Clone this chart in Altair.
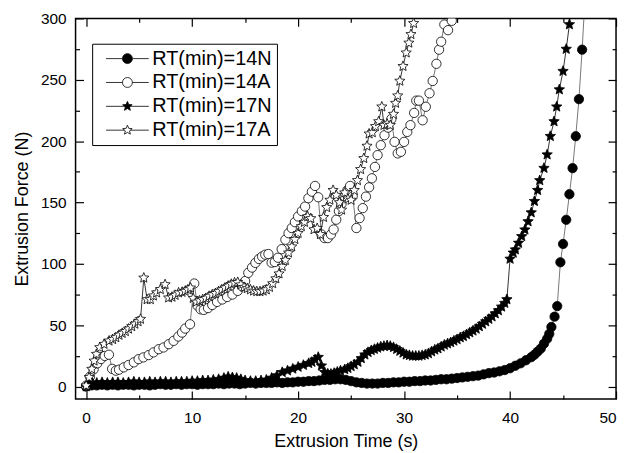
import math
import altair as alt
import pandas as pd

SERIES = ["RT(min)=14N", "RT(min)=14A", "RT(min)=17N", "RT(min)=17A"]

# (time s, force N)
s14N = [(0,0),(0.5,1),(1,1),(1.5,1.5),(2,1),(2.5,1.5),(3,1),(3.5,1.5),(4,1.5),(4.5,1),
        (5,1.5),(5.5,1.5),(6,1),(6.5,1.5),(7,2),(7.5,1.5),(8,1.5),(8.5,2),(9,1.5),(9.5,2),
        (10,2),(10.5,1.5),(11,2),(11.5,2),(12,2),(12.5,2.5),(13,2),(13.5,2.5),(14,2.5),(14.5,2),
        (15,2.5),(15.5,3),(16,2.5),(16.5,3),(17,3),(17.5,3),(18,3.5),(18.5,3),(19,3.5),(19.5,3.5),
        (20,4),(20.5,4),(21,4.5),(21.5,4.5),(22,5),(22.5,5.5),(23,5.5),(23.5,6),(24,6),(24.5,5.5),
        (25,4.5),(25.5,3.5),(26,3),(26.5,2.5),(27,2.5),(27.5,2.5),(28,3),(28.5,3),(29,3.5),(29.5,3.5),
        (30,4),(30.5,4),(31,4.5),(31.5,4.5),(32,5),(32.5,5),(33,5.5),(33.5,6),(34,6),(34.5,6.5),
        (35,7),(35.5,7.5),(36,8),(36.5,8.5),(37,9),(37.5,10),(38,11),(38.5,11.5),(39,12.5),(39.5,13.5),
        (40,15),(40.5,17),(41,19),(41.5,21.5),(42,24),(42.3,26),(42.6,28.5),(42.9,31),(43.2,35),(43.5,39),
        (43.7,43),(43.9,48.6),(44.2,57),(44.45,65.6),(44.75,101.3),(45.0,116.2),(45.3,135.9),(45.6,156.7),
        (45.9,178),(46.2,204),(46.5,234.2),(46.8,274.5),(47.1,320)]

s14A = [(0,0.8),(0.35,8),(0.7,14),(1.05,19),(1.4,22.5),(1.75,25),(2.15,26),(2.45,14.5),(2.8,13),
        (3.1,13.8),(3.55,15.7),(4.0,17.6),(4.5,19.8),(4.95,22.4),(5.4,23.8),(5.9,25.7),(6.35,27.9),
        (6.85,30.5),(7.3,31.9),(7.8,34.6),(8.25,37.3),(8.7,40.8),(9.05,44),(9.35,47.3),(9.8,50.8),
        (10.2,84),(10.5,66),(10.8,63),(11.1,62.5),(11.5,64),(11.9,66.5),(12.35,69),(12.85,71),
        (13.3,73),(13.8,75),(14.3,78),(14.7,81.8),(15.0,86),(15.3,92.7),(15.65,97),(15.97,100.8),
        (16.3,104),(16.6,106),(16.9,107.5),(17.2,108),(17.5,101),(17.8,101.5),(18.1,105),(18.45,112),
        (18.8,119.7),(19.1,125),(19.4,129.2),(19.7,134),(20.0,138.6),(20.35,143),(20.66,146.7),
        (20.97,153.5),(21.3,158.8),(21.6,163.5),(21.9,154.3),(22.2,124),(22.5,121),(22.8,121),
        (23.1,124),(23.35,128),(23.6,136),(23.85,143),(24.1,149),(24.4,155),(24.65,160),(24.9,163.5),
        (25.15,155),(25.5,129.2),(25.8,137.3),(26.1,145.4),(26.4,154.8),(26.7,162.4),(26.96,169.7),
        (27.25,179),(27.5,188.6),(27.8,196.7),(28.15,204.8),(28.5,211),(28.8,218),(29.1,199.4),
        (29.4,190),(29.7,191.3),(30.0,199.4),(30.3,207.5),(30.6,213),(30.95,223),(31.15,233),
        (31.4,233),(31.75,217),(32.05,228),(32.4,239),(32.7,249),(33.05,263),(33.3,274.5),
        (33.5,281),(33.8,295),(34.15,290.4),(34.5,298),(34.8,312)]

s17N = [(0,0),(0.3,2),(0.6,3),(1.0,3),(1.5,3.5),(2.0,3),(2.5,3.5),(3.0,3.5),(3.5,3),(4.0,3.5),
        (4.5,4),(5.0,3.5),(5.5,3.5),(6.0,4),(6.5,3.5),(7.0,4),(7.5,4),(8.0,3.5),(8.5,4),(9.0,4),
        (9.5,4),(10.0,4.5),(10.5,4.5),(11.0,5),(11.5,5),(12.0,5.5),(12.5,6),(13.0,7),(13.4,8),(13.8,7.5),
        (14.2,7),(14.6,6),(15.0,5),(15.5,4.5),(16.0,4.5),(16.5,5),(17.0,5.5),(17.5,7),(18.0,9),(18.5,11.7),
        (19.0,13),(19.5,14.5),(20.0,16),(20.5,17.5),(21.0,19),(21.3,20),(21.6,22),(21.9,24),(22.2,17),
        (22.5,11.7),(22.8,10.5),(23.1,10.3),(23.4,11),(23.7,12),(24.0,13),(24.4,14),(24.7,15),(25.0,16.5),
        (25.3,18),(25.65,20),(25.96,23),(26.3,26),(26.6,28),(26.9,29.5),(27.2,30.5),(27.5,31.5),(27.8,32.5),
        (28.1,33),(28.4,33.5),(28.7,33),(29.0,32),(29.3,30.5),(29.6,29),(29.9,27.5),(30.2,26),(30.5,25.5),
        (30.8,25),(31.1,25),(31.4,25),(31.7,25.5),(32.0,26),(32.3,27),(32.6,28.5),(32.9,30),(33.2,31),
        (33.5,32.5),(33.8,34),(34.1,35),(34.4,36),(34.7,37.3),(35.0,38.5),(35.3,40),(35.6,41),(35.9,42.5),
        (36.2,44),(36.5,45.5),(36.8,47),(37.1,49),(37.4,51),(37.7,53),(38.0,55),(38.3,57),(38.6,59.5),
        (38.9,62),(39.2,65),(39.5,68),(39.7,71),(40.0,104),(40.3,109),(40.5,111.6),(40.8,117),(41.1,122.4),
        (41.4,127.8),(41.7,134.5),(42.0,141.8),(42.3,151),(42.6,160),(42.8,168),(43.2,178),(43.5,189),
        (43.8,204),(44.15,216),(44.4,228),(44.65,242),(45.0,257),(45.3,275),(45.6,295),(45.85,315)]

s17A = [(0,0.8),(0.28,7.6),(0.53,14.3),(0.75,21),(0.97,26.5),(1.28,31.9),(1.69,34.6),(2.16,37.3),
        (2.5,38.5),(2.8,40),(3.1,42),(3.4,43.5),(3.7,45),(4.0,47),(4.3,49),(4.6,51),(4.9,53),(5.13,55),
        (5.44,88.6),(5.75,71),(6.06,71),(6.35,74),(6.65,76.5),(7.0,79.2),(7.45,83.2),(7.78,72.4),
        (8.1,73),(8.4,74.5),(8.72,76.5),(9.05,77),(9.34,77.8),(9.6,79),(9.85,80.5),(10.1,72),(10.4,69),
        (10.7,70),(11.0,71),(11.3,72),(11.6,73.7),(11.9,75),(12.2,76),(12.5,77.5),(12.8,79),(13.1,80.5),
        (13.4,82),(13.7,83.5),(14.0,84.6),(14.3,85),(14.6,83),(14.9,81),(15.2,80),(15.5,79),(15.8,78),
        (16.1,77.5),(16.4,77.5),(16.7,78),(17.0,79),(17.3,81),(17.6,84),(17.9,88),(18.2,92),(18.5,98),
        (18.8,103),(19.1,109),(19.4,114),(19.7,120),(20.0,125),(20.3,130.5),(20.6,134),(20.9,138.6),
        (21.2,137),(21.5,128),(21.8,129),(22.1,124),(22.4,138),(22.7,146),(23.0,152),(23.3,160),
        (23.6,156),(23.9,150),(24.1,144),(24.4,158),(24.7,153),(25.0,152),(25.3,160),(25.6,168),
        (25.9,177),(26.2,186),(26.5,196),(26.7,206),(27.0,207),(27.3,212),(27.6,216),(27.9,228),
        (28.1,213),(28.4,214),(28.7,213),(29.0,222),(29.2,231),(29.4,237),(29.6,249),(29.9,261),
        (30.2,272),(30.45,280),(30.65,287),(30.9,296),(31.1,310)]

X_TICKS = [0, 5, 10, 15, 20, 25, 30, 35, 40, 45, 50]
Y_TICKS = [0, 25, 50, 75, 100, 125, 150, 175, 200, 225, 250, 275, 300]

FONT = "Liberation Sans"


def star_path(R=1.0, r=0.45):
    pts = []
    for k in range(10):
        ang = -math.pi / 2 + k * math.pi / 5
        rad = R if k % 2 == 0 else r
        pts.append((rad * math.cos(ang), rad * math.sin(ang)))
    return "M" + "L".join(f"{x:.3f},{y:.3f}" for x, y in pts) + "Z"


STAR = star_path()
LEG_CIRCLE = "M-4.3,0L-1,0M1,0L4.3,0M1,0A1,1,0,1,1,-1,0A1,1,0,1,1,1,0Z"
LEG_STAR = "M-4.3,0L-0.59,0M0.59,0L4.3,0" + star_path()


def frame(pairs, name):
    return pd.DataFrame({"t": [p[0] for p in pairs], "F": [p[1] for p in pairs],
                         "series": name, "idx": list(range(len(pairs)))})


x_scale = alt.Scale(domain=[-1, 50], nice=False, zero=False)
y_scale = alt.Scale(domain=[-10, 300], nice=False, zero=False)

X_TICK_EXPR = {"expr": "datum.value % 10 === 0 ? -8 : -4"}
Y_TICK_EXPR = {"expr": "datum.value % 50 === 0 ? -8 : -4"}

x_axis_main = alt.Axis(values=X_TICKS, labelExpr="datum.value % 10 === 0 ? datum.label : ''",
                       tickSize=X_TICK_EXPR, labelPadding=19.5, title="Extrusion Time (s)",
                       titlePadding=7, domain=False, grid=False)
y_axis_main = alt.Axis(values=Y_TICKS, labelExpr="datum.value % 50 === 0 ? datum.label : ''",
                       tickSize=Y_TICK_EXPR, labelPadding=17.5, title="Extrusion Force (N)",
                       titlePadding=9, domain=False, grid=False)
x_axis_top = alt.Axis(orient="top", values=X_TICKS, labels=False, tickSize=X_TICK_EXPR,
                      title="", domain=False, grid=False)
y_axis_right = alt.Axis(orient="right", values=Y_TICKS, labels=False, tickSize=Y_TICK_EXPR,
                        title="", domain=False, grid=False)

styles = {
    SERIES[0]: dict(data=s14N, shape="circle", size=88, fill="black", line="#555555"),
    SERIES[1]: dict(data=s14A, shape="circle", size=88, fill="white", line="#555555"),
    SERIES[2]: dict(data=s17N, shape=STAR, size=120, fill="black", line="black"),
    SERIES[3]: dict(data=s17A, shape=STAR, size=115, fill="white", line="black"),
}

layers = []
first = True
for name in SERIES:
    st = styles[name]
    df = frame(st["data"], name)
    if first:
        xa, ya = x_axis_main, y_axis_main
        first = False
    else:
        xa, ya = None, None
    line = alt.Chart(df).mark_line(stroke=st["line"], strokeWidth=0.8, clip=True).encode(
        x=alt.X("t:Q", scale=x_scale, axis=xa),
        y=alt.Y("F:Q", scale=y_scale, axis=ya),
        order="idx:Q",
    )
    pts = alt.Chart(df).mark_point(shape=st["shape"], size=st["size"], filled=True,
                                   fill=st["fill"], stroke="black", strokeWidth=0.8,
                                   opacity=1, clip=True).encode(
        x=alt.X("t:Q", scale=x_scale, axis=None),
        y=alt.Y("F:Q", scale=y_scale, axis=None),
    )
    layers += [line, pts]

# legend-only layer (points lie outside the domain and are clipped)
leg_df = pd.DataFrame({"t": [-100] * 4, "F": [0] * 4, "series": SERIES})
leg = alt.Legend(title=None, orient="none", legendX=16.7, legendY=25.5, padding=5,
                 strokeColor="black", fillColor="white", labelFont=FONT, labelFontSize=20,
                 labelColor="black", symbolSize=100, symbolStrokeColor="black",
                 symbolStrokeWidth=0.8, symbolOpacity=1, symbolOffset=20.5, labelOffset=15,
                 rowPadding=4)
legend_layer = alt.Chart(leg_df).mark_point(filled=True, size=100, strokeWidth=0.8,
                                            opacity=1, clip=True).encode(
    x=alt.X("t:Q", scale=x_scale, axis=x_axis_top),
    y=alt.Y("F:Q", scale=y_scale, axis=y_axis_right),
    shape=alt.Shape("series:N", scale=alt.Scale(domain=SERIES,
                    range=[LEG_CIRCLE, LEG_CIRCLE, LEG_STAR, LEG_STAR]), legend=leg),
    fill=alt.Fill("series:N", scale=alt.Scale(domain=SERIES,
                  range=["black", "white", "black", "white"]), legend=leg),
    stroke=alt.Stroke("series:N", scale=alt.Scale(domain=SERIES,
                      range=["black", "black", "black", "black"]), legend=leg),
)
layers.append(legend_layer)

chart = alt.layer(*layers).resolve_axis(x="independent", y="independent").properties(
    width=544, height=383,
    autosize=alt.AutoSizeParams(type="none"),
    padding={"left": 68, "top": 9, "right": 5, "bottom": 54},
).configure_view(stroke="black", strokeWidth=1.5).configure_axis(
    labelFont=FONT, labelFontSize=15.5, labelColor="black",
    titleFont=FONT, titleFontSize=18, titleFontWeight="normal", titleColor="black",
    tickColor="black", tickWidth=1.2,
)

chart.save("out.html", embed_options={"renderer": "svg", "actions": False})
